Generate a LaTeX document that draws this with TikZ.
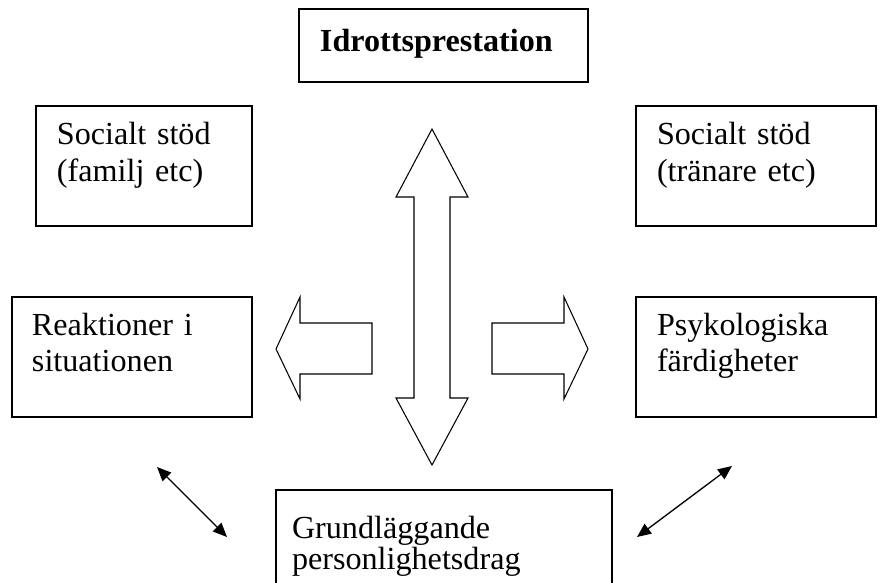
\documentclass[tikz,border=0pt]{standalone}
\usepackage{fontspec}
\setmainfont{Liberation Serif}[WordSpace={1.08,0,0}]
\usepackage{tikz}
\usetikzlibrary{arrows.meta,positioning,calc}

\begin{document}
\begin{tikzpicture}[
    x=0.02cm, y=-0.02cm,
    box/.style={
        draw,
        line width=0.8pt,
        anchor=north west,
        outer sep=0pt,
        inner ysep=0pt,
        inner xsep=0.42cm,
        align=left,
        font=\fontsize{18.3}{21}\selectfont
    },
    blockarrow/.style={draw, line width=0.6pt, line join=miter},
    link/.style={{Triangle[length=0.28cm, width=0.24cm]}-{Triangle[length=0.28cm, width=0.24cm]}, line width=0.75pt}
]
\useasboundingbox (0,0) rectangle (889,582);
\clip (0,0) rectangle (889,582);

% boxes
\node[box, text width=4.94cm, text height=0.86cm, text depth=0.6cm] (prest) at (299,9) {\textbf{Idrottsprestation}};
\node[box, text width=3.48cm, text height=0.78cm, text depth=1.62cm] (famstod) at (36,106) {Socialt stöd\\(familj etc)};
\node[box, text width=3.96cm, text height=0.78cm, text depth=1.62cm] (trstod) at (636,106) {Socialt stöd\\(tränare etc)};
\node[box, inner xsep=0.4cm, text width=4.0cm, text height=0.76cm, text depth=1.64cm] (reakt) at (12,297) {Reaktioner i\\situationen};
\node[box, text width=3.96cm, text height=0.76cm, text depth=1.64cm] (psyk) at (636,297) {Psykologiska\\färdigheter};
\node[box, inner xsep=0.32cm, text width=6.08cm, text height=0.96cm, text depth=1.24cm,
      font=\fontsize{18.3}{18.2}\selectfont] (grund) at (276,490) {Grundläggande\\personlighetsdrag};

% block arrows
\draw[blockarrow] (432,129) -- (468,197) -- (450,197) -- (450,398) -- (468,398)
    -- (432,465) -- (396,398) -- (414,398) -- (414,197) -- (396,197) -- cycle;
\draw[blockarrow] (276,349) -- (300,297) -- (300,323) -- (372,323) -- (372,374)
    -- (300,374) -- (300,399) -- cycle;
\draw[blockarrow] (588,349) -- (564,297) -- (564,323) -- (492,323) -- (492,374)
    -- (564,374) -- (564,399) -- cycle;

% small links
\coordinate (la) at (157,467);
\coordinate (lb) at (227,537);
\coordinate (ra) at (732,466);
\coordinate (rb) at (637,537);
\draw[link] (la) -- (lb);
\draw[link] (ra) -- (rb);
\end{tikzpicture}
\end{document}
